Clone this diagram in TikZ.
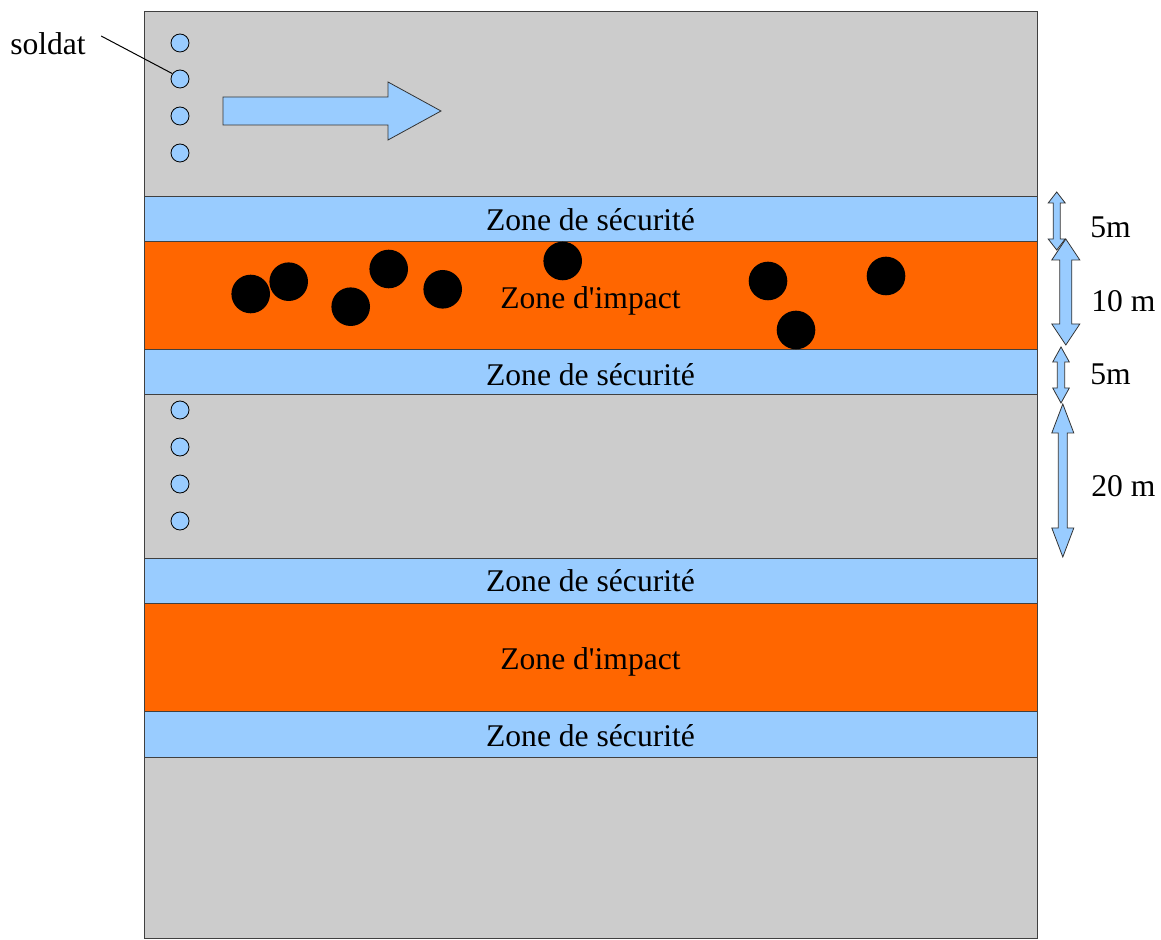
\documentclass[tikz,border=0pt]{standalone}
\usepackage{fontspec}
\setmainfont{Liberation Serif}[Ligatures=TeXOff]
\definecolor{terrain}{HTML}{CCCCCC}
\definecolor{bleu}{HTML}{99CCFF}
\definecolor{impact}{HTML}{FF6600}
\tikzset{
  txt/.style={font=\fontsize{15.8}{19}\selectfont, inner sep=0pt},
  zone/.style={draw=black!75, line width=0.5pt},
  soldat/.style={circle, draw=black, fill=bleu, minimum size=9pt, inner sep=0pt, line width=0.4pt},
  obus/.style={circle, fill=black, minimum size=19.3pt, inner sep=0pt},
  fleche/.style={draw=black!80, fill=bleu, line width=0.4pt, line join=miter},
}
% double arrow: x, top, bottom, head half width, shaft half width, head length
\newcommand{\cotefleche}[6]{%
  \filldraw[fleche] (#1,#2) -- (#1+#4,#2+#6) -- (#1+#5,#2+#6) -- (#1+#5,#3-#6)
    -- (#1+#4,#3-#6) -- (#1,#3) -- (#1-#4,#3-#6) -- (#1-#5,#3-#6)
    -- (#1-#5,#2+#6) -- (#1-#4,#2+#6) -- cycle;}
\begin{document}
\begin{tikzpicture}[x=0.5pt,y=-0.5pt]
\useasboundingbox (0,0) rectangle (1161,940);
\filldraw[zone, fill=terrain] (144,12) rectangle (1037,938);
% bandes
\foreach \ya/\yb/\c in {197/242/bleu, 350/395/bleu, 558/603/bleu, 711/757/bleu, 242/350/impact, 603/711/impact}
  \filldraw[zone, fill=\c] (144,\ya) rectangle (1037,\yb);
\node[txt] (sec1) at (590.5,220) {Zone de sécurité};
\node[txt] (imp1) at (590.5,301) {Zone d'impact};
\node[txt] (sec2) at (590.5,374.5) {Zone de sécurité};
\node[txt] (sec3) at (590.5,581) {Zone de sécurité};
\node[txt] (imp2) at (590.5,662) {Zone d'impact};
\node[txt] (sec4) at (590.5,735.5) {Zone de sécurité};
% soldats
\foreach \i/\y in {1/43,2/79,3/116,4/153,5/410,6/447,7/484,8/521}
  \node[soldat] (sol\i) at (180,\y) {};
\node[txt] (lblsoldat) at (48,44) {soldat};
\draw[line width=0.5pt] ([shift={(15,-8)}]lblsoldat.east) -- (sol2.145);
% sens de marche
\filldraw[fleche] (223,97) -- (388,97) -- (388,82) -- (441,111) -- (388,140) -- (388,125) -- (223,125) -- cycle;
% impacts
\foreach \i/\x/\y in {1/250.7/294, 2/288.7/281.7, 3/350.7/306.7, 4/388.7/269, 5/442.7/289.3, 6/562.7/261, 7/768/281, 8/886/276, 9/796/330}
  \node[obus] (obus\i) at (\x,\y) {};
% cotes
\cotefleche{1056.7}{192}{250}{8.5}{3.5}{11}
\cotefleche{1065.8}{239}{345}{14}{6}{21}
\cotefleche{1061}{347}{403}{8.3}{3.7}{15}
\cotefleche{1062.8}{404}{557}{11}{4.5}{29}
\node[txt, anchor=west] (cote1) at (1090,227) {5m};
\node[txt, anchor=west] (cote2) at (1091,301) {10 m};
\node[txt, anchor=west] (cote3) at (1090,374) {5m};
\node[txt, anchor=west] (cote4) at (1091,486) {20 m};
\end{tikzpicture}
\end{document}
